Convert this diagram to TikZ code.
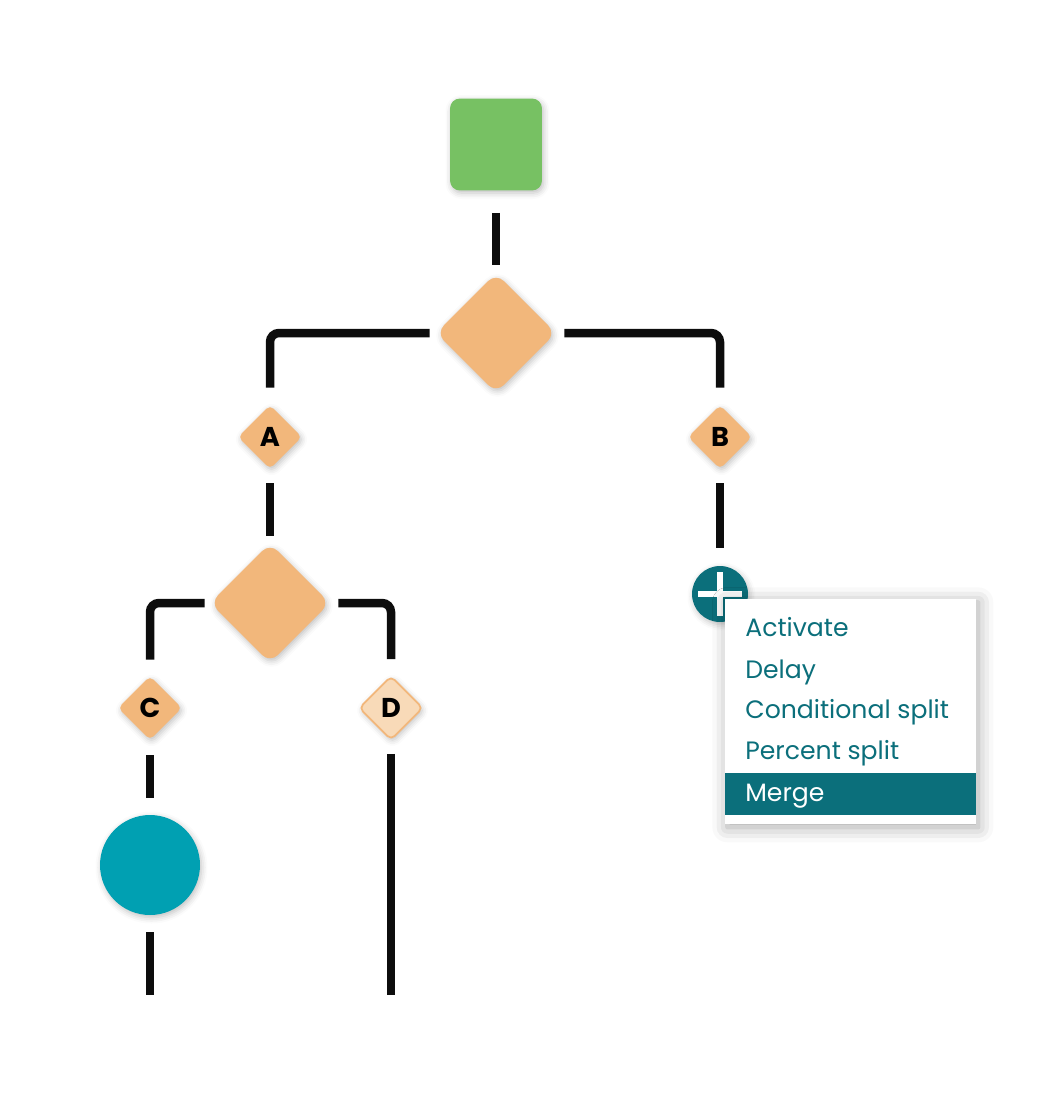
\documentclass[tikz,border=0pt]{standalone}
\usepackage{fontspec}
\setmainfont{Poppins}
\usetikzlibrary{shapes.geometric,shadows.blur}
\definecolor{flowgreen}{HTML}{77C163}
\definecolor{floworange}{HTML}{F2B77B}
\definecolor{flowpeach}{HTML}{F8DAB8}
\definecolor{flowteal}{HTML}{00A0B2}
\definecolor{flowdark}{HTML}{0B6F7B}
\definecolor{flowline}{HTML}{0D0D0D}
\newcommand{\menufont}{\linespread{1}\fontsize{14.3}{17}\selectfont}
\newcommand{\tagfont}{\linespread{1}\fontsize{15.5}{18}\selectfont\bfseries}
\tikzset{
    flow/chart/.style={x=0.02cm, y=-0.02cm},
    flow/soft/.style={blur shadow={shadow xshift=0.03cm, shadow yshift=-0.05cm, shadow blur radius=0.12cm, shadow opacity=25}},
    flow/start/.style={rectangle, rounded corners=0.2cm, fill=flowgreen, minimum size=1.84cm, inner sep=0pt, flow/soft},
    flow/split/.style={diamond, aspect=1, rounded corners=0.22cm, fill=floworange, minimum size=2.4cm, inner sep=0pt, flow/soft},
    flow/branch/.style={diamond, aspect=1, rounded corners=0.1cm, fill=floworange, minimum size=1.28cm, inner sep=0pt, font=\tagfont, flow/soft},
    flow/branchidle/.style={flow/branch, fill=flowpeach, draw=floworange, line width=1pt},
    flow/action/.style={circle, fill=flowteal, minimum size=2cm, inner sep=0pt, flow/soft},
    flow/add/.style={circle, fill=flowdark, minimum size=1.12cm, inner sep=0pt, flow/soft},
    flow/menu/.style={rectangle, fill=white, minimum width=5.02cm, minimum height=4.5cm, inner sep=0pt, anchor=north west, blur shadow={shadow xshift=0.04cm, shadow yshift=-0.06cm, shadow blur radius=0.3cm, shadow opacity=35}},
    flow/pick/.style={rectangle, fill=flowdark, minimum width=5.02cm, minimum height=0.83cm, inner sep=0pt, anchor=north west},
    flow/item/.style={font=\menufont, text=flowdark, anchor=base west, inner sep=0pt},
    flow/link/.style={line width=0.17cm, draw=flowline, rounded corners=0.18cm}
}
\begin{document}
\begin{tikzpicture}[flow/chart]
    \useasboundingbox (0,0) rectangle (1059,1110);
    \node[flow/start] (start) at (496,144.5) {};
    \node[flow/split] (split1) at (496,333) {};
    \node[flow/branch] (A) at (270,437) {A};
    \node[flow/branch] (B) at (720,437) {B};
    \node[flow/split] (split2) at (270,603) {};
    \node[flow/branch] (C) at (150,708) {C};
    \node[flow/branchidle] (D) at (391,708) {D};
    \node[flow/action] (action) at (150,865) {};
    \coordinate (endC) at (150,995);
    \coordinate (endD) at (391,995);
    \node[flow/add] (add) at (720,594) {};
    \foreach \source/\target/\ga/\gb in {start/split1/0.44/0.16,A/split2/0.28/0.14,C/action/0.3/0.34,action/endC/0.34/0,D/endD/0.26/0,B/add/0.28/0.36}
        \draw[flow/link, shorten <=\ga cm, shorten >=\gb cm] (\source) -- (\target);
    \draw[flow/link, shorten <=0.12cm, shorten >=0.34cm] (split1.west) -| (A.north);
    \draw[flow/link, shorten <=0.16cm, shorten >=0.34cm] (split1.east) -| (B.north);
    \draw[flow/link, shorten <=0.1cm, shorten >=0.32cm] (split2.west) -| (C.north);
    \draw[flow/link, shorten <=0.16cm, shorten >=0.32cm] (split2.east) -| (D.north);
    % plus button and its menu
    \draw[white, line width=0.12cm] ([xshift=-0.44cm]add.center) -- ([xshift=0.44cm]add.center);
    \draw[white, line width=0.12cm] ([yshift=0.44cm]add.center) -- ([yshift=-0.44cm]add.center);
    \node[flow/menu] (menu) at (725,599) {};
    \node[flow/pick] (pick) at (725,773) {};
    \node[flow/item] (activate) at (745,636) {Activate};
    \node[flow/item] (delay) at (745,678) {Delay};
    \node[flow/item] (condsplit) at (745,718) {Conditional split};
    \node[flow/item] (pctsplit) at (745,759) {Percent split};
    \node[flow/item, text=white] (merge) at (745,801) {Merge};
\end{tikzpicture}
\end{document}
